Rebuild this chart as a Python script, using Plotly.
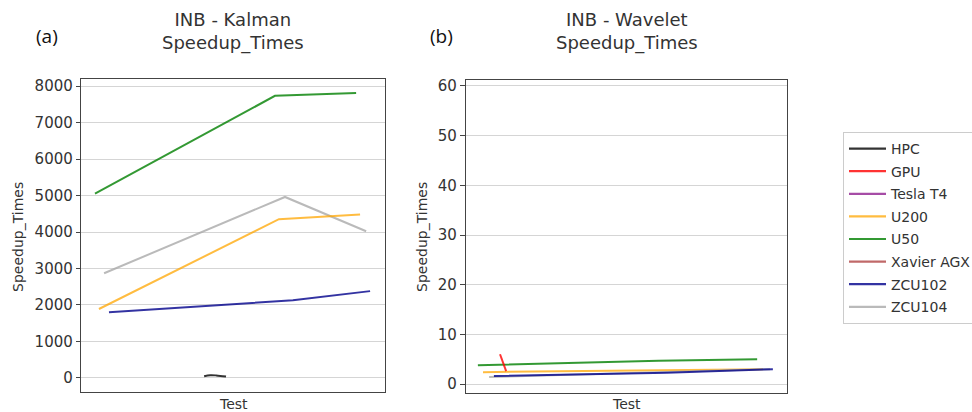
import plotly.graph_objects as go

# ---------------- data ----------------
series_names = ["HPC", "GPU", "Tesla T4", "U200", "U50", "Xavier AGX", "ZCU102", "ZCU104"]
series_colors = ["rgba(0,0,0,0.8)", "rgba(255,0,0,0.8)", "rgba(128,0,128,0.7)",
                 "rgba(255,165,0,0.75)", "rgba(0,128,0,0.8)", "rgba(165,42,42,0.7)",
                 "rgba(0,0,139,0.8)", "rgba(169,169,169,0.8)"]

# (a) INB - Kalman  (x = relative test position, y = Speedup_Times)
kalman_hpc_x = [40.5, 42.5, 44.5, 47.7]
kalman_hpc_y = [45, 75, 70, 40]
kalman_u200_x = [5.9, 65.1, 91.8]
kalman_u200_y = [1890, 4350, 4480]
kalman_u50_x = [4.6, 63.8, 90.5]
kalman_u50_y = [5050, 7730, 7810]
kalman_zcu102_x = [9.2, 44.0, 69.7, 95.1]
kalman_zcu102_y = [1800, 2000, 2130, 2380]
kalman_zcu104_x = [7.6, 67.1, 93.8]
kalman_zcu104_y = [2870, 4960, 4020]

# (b) INB - Wavelet
wavelet_gpu_x = [10.6, 12.5]
wavelet_gpu_y = [6.0, 2.6]
wavelet_u200_x = [5.3, 92.5]
wavelet_u200_y = [2.4, 3.0]
wavelet_u50_x = [3.7, 60.0, 90.7]
wavelet_u50_y = [3.8, 4.7, 5.0]
wavelet_zcu104_x = [7.2, 94.7]
wavelet_zcu104_y = [1.4, 3.0]
wavelet_zcu102_x = [8.7, 62.6, 95.6]
wavelet_zcu102_y = [1.6, 2.3, 3.0]

kalman_ticks = [0, 1000, 2000, 3000, 4000, 5000, 6000, 7000, 8000]
wavelet_ticks = [0, 10, 20, 30, 40, 50, 60]

titles = ["INB - Kalman<br>Speedup_Times", "INB - Wavelet<br>Speedup_Times"]
panel_labels = ["(a)", "(b)"]
y_title = "Speedup_Times"
x_title = "Test"

# ---------------- figure ----------------
W, H = 972, 412
color_of = dict(zip(series_names, series_colors))
fig = go.Figure()

# legend-only entries (fixed order)
for name in series_names:
    fig.add_trace(go.Scatter(x=[None], y=[None], mode="lines", name=name,
                             legendgroup=name, showlegend=True,
                             line=dict(color=color_of[name], width=2.2)))

kalman = [("HPC", kalman_hpc_x, kalman_hpc_y),
          ("ZCU104", kalman_zcu104_x, kalman_zcu104_y),
          ("U200", kalman_u200_x, kalman_u200_y),
          ("U50", kalman_u50_x, kalman_u50_y),
          ("ZCU102", kalman_zcu102_x, kalman_zcu102_y)]
wavelet = [("U50", wavelet_u50_x, wavelet_u50_y),
           ("U200", wavelet_u200_x, wavelet_u200_y),
           ("ZCU104", wavelet_zcu104_x, wavelet_zcu104_y),
           ("ZCU102", wavelet_zcu102_x, wavelet_zcu102_y),
           ("GPU", wavelet_gpu_x, wavelet_gpu_y)]

for name, xs, ys in kalman:
    shape = "spline" if name == "HPC" else "linear"
    fig.add_trace(go.Scatter(x=xs, y=ys, mode="lines", name=name, legendgroup=name,
                             showlegend=False,
                             line=dict(color=color_of[name], width=2, shape=shape),
                             xaxis="x", yaxis="y"))
for name, xs, ys in wavelet:
    fig.add_trace(go.Scatter(x=xs, y=ys, mode="lines", name=name, legendgroup=name,
                             showlegend=False, line=dict(color=color_of[name], width=2),
                             xaxis="x2", yaxis="y2"))

def px_x(p):
    return p / W

def px_y(p):
    return 1 - p / H

frame = "#444444"
grid = "#d5d5d5"
tickfont = dict(family="DejaVu Sans", size=15, color="#333333")

ax_common = dict(showline=True, mirror=True, linecolor=frame, linewidth=1.4,
                 zeroline=False)

fig.update_layout(
    width=W, height=H,
    margin=dict(l=0, r=0, t=0, b=0, autoexpand=False),
    paper_bgcolor="white", plot_bgcolor="white",
    font=dict(family="DejaVu Sans", color="#333333"),
    xaxis=dict(domain=[px_x(81), px_x(385)], range=[0, 100], showticklabels=False,
               ticks="", showgrid=False, anchor="y", **ax_common),
    yaxis=dict(domain=[px_y(392), px_y(79)], range=[-384, 8192], tickvals=kalman_ticks,
               ticks="outside", ticklen=4, tickcolor=frame, tickfont=tickfont,
               showgrid=True, gridcolor=grid, gridwidth=1, anchor="x", **ax_common),
    xaxis2=dict(domain=[px_x(466), px_x(787)], range=[0, 100], showticklabels=False,
                ticks="", showgrid=False, anchor="y2", **ax_common),
    yaxis2=dict(domain=[px_y(393), px_y(80)], range=[-1.8, 61.2], tickvals=wavelet_ticks,
                ticks="outside", ticklen=5, tickcolor=frame, tickfont=tickfont,
                showgrid=True, gridcolor=grid, gridwidth=1, anchor="x2", **ax_common),
    legend=dict(x=px_x(843), y=px_y(132), xanchor="left", yanchor="top",
                bordercolor="#cccccc", borderwidth=1, bgcolor="white",
                font=dict(family="DejaVu Sans", size=14, color="#333333"),
                itemwidth=37,
                tracegroupgap=1.4, itemclick=False, itemdoubleclick=False),
)

annotations = []
centers = [(81 + 385) / 2, (466 + 787) / 2]
ylab_x = [18, 422]
plab_x = [47, 441]
for i in range(2):
    annotations.append(dict(text=titles[i], x=px_x(centers[i]), y=px_y(32),
                            xref="paper", yref="paper", showarrow=False,
                            xanchor="center", yanchor="middle",
                            font=dict(family="DejaVu Sans", size=18, color="#333333")))
    annotations.append(dict(text=panel_labels[i], x=px_x(plab_x[i]), y=px_y(36),
                            xref="paper", yref="paper", showarrow=False,
                            xanchor="center", yanchor="middle",
                            font=dict(family="Open Sans", size=19, color="#111111")))
    annotations.append(dict(text=y_title, x=px_x(ylab_x[i]), y=px_y(237),
                            xref="paper", yref="paper", showarrow=False, textangle=-90,
                            xanchor="center", yanchor="middle",
                            font=dict(family="DejaVu Sans", size=14, color="#333333")))
    annotations.append(dict(text=x_title, x=px_x(centers[i]), y=px_y(404),
                            xref="paper", yref="paper", showarrow=False,
                            xanchor="center", yanchor="middle",
                            font=dict(family="DejaVu Sans", size=14, color="#333333")))
fig.update_layout(annotations=annotations)

fig.write_html("out.html")
